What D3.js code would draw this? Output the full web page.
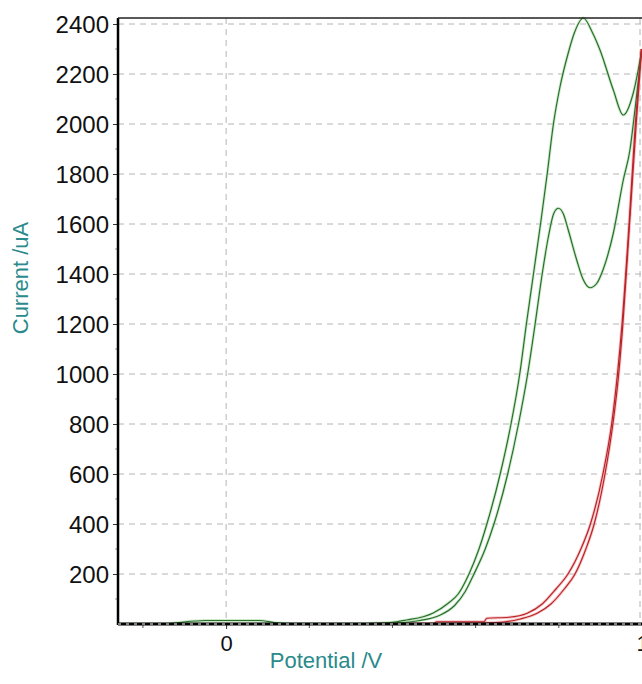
<!DOCTYPE html>
<html>
<head>
<meta charset="utf-8">
<script src="https://cdn.jsdelivr.net/npm/d3@7"></script>
<style>
  html, body { margin: 0; padding: 0; background: #ffffff; }
  svg { display: block; }
  text { font-family: "Liberation Sans", Arial, sans-serif; }
</style>
</head>
<body>
<svg id="chart" width="642" height="684"></svg>
<script>
// ---------- data (Potential / V, Current / uA) ----------
const greenOuterV = [-0.26, -0.15, -0.12, -0.05, 0.08, 0.12, 0.16, 0.25, 0.37, 0.41, 0.434, 0.474, 0.498, 0.534, 0.558, 0.584, 0.608, 0.627, 0.659, 0.685, 0.706, 0.722, 0.739, 0.756, 0.772, 0.787, 0.803, 0.822, 0.837, 0.859, 0.881, 0.899, 0.931, 0.955, 0.979, 1.0];
const greenOuterI = [0, 0, 5, 14, 14, 5, 2, 1, 3, 9, 16, 29, 44, 83, 120, 200, 300, 400, 600, 800, 1000, 1200, 1400, 1600, 1800, 2000, 2150, 2280, 2363, 2424, 2365, 2296, 2136, 2036, 2124, 2300];

const greenInnerV = [-0.26, 0.2, 0.418, 0.466, 0.514, 0.55, 0.575, 0.596, 0.623, 0.644, 0.677, 0.703, 0.725, 0.743, 0.760, 0.775, 0.788, 0.799, 0.811, 0.822, 0.843, 0.858, 0.875, 0.891, 0.907, 0.931, 0.955, 0.971, 0.983, 1.0];
const greenInnerI = [0, 0, 5, 14, 35, 75, 130, 200, 300, 400, 600, 800, 1000, 1200, 1400, 1550, 1643, 1663, 1640, 1580, 1456, 1380, 1345, 1362, 1420, 1563, 1776, 1896, 2056, 2300];

const redUpperV = [0.35, 0.50, 0.506, 0.62, 0.627, 0.68, 0.724, 0.760, 0.793, 0.822, 0.853, 0.876, 0.906, 0.927, 0.941, 0.952, 0.969, 0.984, 0.998];
const redUpperI = [0, 2, 9, 9, 23, 27, 43, 80, 140, 200, 300, 400, 600, 800, 1000, 1200, 1600, 2000, 2300];

const redLowerV = [0.35, 0.55, 0.65, 0.707, 0.748, 0.781, 0.813, 0.839, 0.865, 0.885, 0.911, 0.930, 0.944, 0.954, 0.970, 0.986, 0.999];
const redLowerI = [0, 3, 6, 20, 43, 80, 140, 200, 300, 400, 600, 800, 1000, 1200, 1600, 2000, 2300];

const yTickValues = [200, 400, 600, 800, 1000, 1200, 1400, 1600, 1800, 2000, 2200, 2400];
const xTickLabels = [0, 1];
const xMinorTicks = [-0.2, 0.2, 0.4, 0.6, 0.8];

const xTitle = "Potential /V";
const yTitle = "Current /uA";

// ---------- layout ----------
const svg = d3.select("#chart");
const pLeft = 118, pRight = 642, pTop = 18, pBottom = 624;

const x = d3.scaleLinear().domain([-0.26, 1.0]).range([pLeft, pRight]);
const y = d3.scaleLinear().domain([0, 2424]).range([pBottom, pTop]);

svg.append("defs").append("clipPath").attr("id", "clip")
  .append("rect").attr("x", pLeft).attr("y", pTop - 2).attr("width", pRight - pLeft).attr("height", pBottom - pTop + 2);

// grid lines
const grid = svg.append("g");
grid.selectAll("line.h").data(yTickValues).join("line")
  .attr("x1", pLeft).attr("x2", pRight)
  .attr("y1", d => y(d)).attr("y2", d => y(d))
  .attr("stroke", "#b4b4b4").attr("stroke-width", 1).attr("stroke-dasharray", "6,5");
grid.selectAll("line.v").data(xTickLabels).join("line")
  .attr("x1", d => Math.min(x(d), pRight - 2)).attr("x2", d => Math.min(x(d), pRight - 2))
  .attr("y1", pTop).attr("y2", pBottom)
  .attr("stroke", "#b4b4b4").attr("stroke-width", 1).attr("stroke-dasharray", "6,5");

// curves
const line = d3.line().x(d => x(d[0])).y(d => y(d[1])).curve(d3.curveMonotoneX);
const zip = (a, b) => a.map((v, i) => [v, b[i]]);
const series = [
  { v: greenOuterV, i: greenOuterI, c: "#2b6e2b", halo: "#b9e3b9" },
  { v: greenInnerV, i: greenInnerI, c: "#2b6e2b", halo: "#b9e3b9" },
  { v: redUpperV, i: redUpperI, c: "#b8232a", halo: "#f3b0b0" },
  { v: redLowerV, i: redLowerI, c: "#b8232a", halo: "#f3b0b0" }
];
const plot = svg.append("g").attr("clip-path", "url(#clip)");
series.forEach(s => {
  plot.append("path").attr("d", line(zip(s.v, s.i)))
    .attr("fill", "none").attr("stroke", s.halo).attr("stroke-width", 3).attr("opacity", 0.7);
});
series.forEach(s => {
  plot.append("path").attr("d", line(zip(s.v, s.i)))
    .attr("fill", "none").attr("stroke", s.c).attr("stroke-width", 1.2);
});

// y axis
const yAxis = d3.axisLeft(y).tickValues(yTickValues).tickSize(5).tickPadding(4).tickFormat(d3.format("d"));
const gy = svg.append("g").attr("transform", `translate(${pLeft},0)`).call(yAxis);
gy.select(".domain").remove();
gy.selectAll("text").attr("font-size", 24).attr("fill", "#111").attr("dy", "0.36em");
gy.selectAll("line").attr("stroke", "#333");
// minor y ticks
svg.append("g").selectAll("line").data(d3.range(100, 2400, 200)).join("line")
  .attr("x1", pLeft - 3).attr("x2", pLeft).attr("y1", d => y(d)).attr("y2", d => y(d))
  .attr("stroke", "#999");

// x axis
const xAxis = d3.axisBottom(x).tickValues(xTickLabels).tickSize(5).tickPadding(6).tickFormat(d3.format("d"));
const gx = svg.append("g").attr("transform", `translate(0,${pBottom})`).call(xAxis);
gx.select(".domain").remove();
gx.selectAll("text").attr("font-size", 22).attr("fill", "#111");
gx.selectAll("line").attr("stroke", "#333");
svg.append("g").selectAll("line").data(xMinorTicks).join("line")
  .attr("x1", d => x(d)).attr("x2", d => x(d)).attr("y1", pBottom).attr("y2", pBottom + 4)
  .attr("stroke", "#555");

// frame
svg.append("line").attr("x1", pLeft).attr("x2", pLeft).attr("y1", pTop).attr("y2", pBottom + 1)
  .attr("stroke", "#000").attr("stroke-width", 2.5);
svg.append("line").attr("x1", pLeft).attr("x2", pRight).attr("y1", pTop).attr("y2", pTop)
  .attr("stroke", "#222").attr("stroke-width", 1.5);
svg.append("line").attr("x1", pLeft).attr("x2", pRight).attr("y1", pBottom).attr("y2", pBottom)
  .attr("stroke", "#000").attr("stroke-width", 3);
svg.append("line").attr("x1", pLeft).attr("x2", pRight).attr("y1", pBottom).attr("y2", pBottom)
  .attr("stroke", "#fff").attr("stroke-width", 1).attr("stroke-dasharray", "3,5");

// titles
svg.append("text").attr("x", 326).attr("y", 668).attr("text-anchor", "middle")
  .attr("font-size", 22).attr("fill", "#2a8a8c").text(xTitle);
svg.append("text").attr("transform", "translate(28,278) rotate(-90)").attr("text-anchor", "middle")
  .attr("font-size", 22).attr("fill", "#2a8a8c").text(yTitle);
</script>
</body>
</html>
